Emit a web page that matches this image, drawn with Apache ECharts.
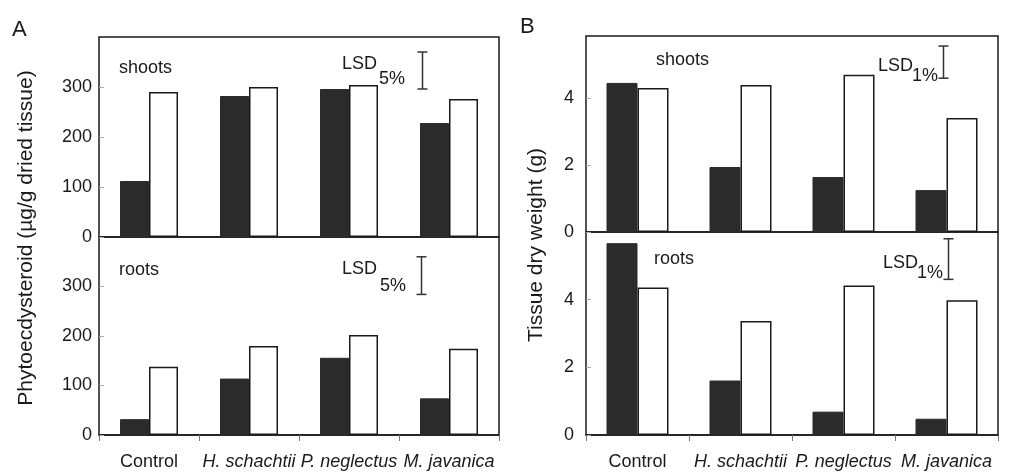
<!DOCTYPE html>
<html>
<head>
<meta charset="utf-8">
<title>Phytoecdysteroid content and tissue dry weight</title>
<script src="https://cdn.jsdelivr.net/npm/echarts@6/dist/echarts.min.js"></script>
<style>
  html, body { margin: 0; padding: 0; background: #fff; }
  #chart { width: 1011px; height: 473px; }
</style>
</head>
<body>
<div id="chart"></div>
<script>
// Treatments along the x axis
const categories = ['Control', 'H. schachtii', 'P. neglectus', 'M. javanica'];

// Panel A: phytoecdysteroid (µg/g dried tissue)
const shootsA_dark  = [112, 282, 296, 228];
const shootsA_white = [290, 300, 304, 276];
const rootsA_dark   = [32, 114, 156, 74];
const rootsA_white  = [138, 180, 202, 174];

// Panel B: tissue dry weight (g)
const shootsB_dark  = [4.45, 1.94, 1.64, 1.25];
const shootsB_white = [4.30, 4.39, 4.69, 3.40];
const rootsB_dark   = [5.67, 1.61, 0.69, 0.48];
const rootsB_white  = [4.36, 3.37, 4.42, 3.98];

// Least significant differences [shoots, roots]
const lsdA = [74, 76];
const lsdB = [0.96, 1.2];

// Labelled y ticks
const ticksA = [0, 100, 200, 300];
const ticksB = [0, 2, 4];

const FONT = '"Liberation Sans", Arial, Helvetica, sans-serif';
const INK = '#1a1a1a';
const DARK = '#2b2b2b';

const chart = echarts.init(document.getElementById('chart'), null, { renderer: 'canvas' });

// Plot boxes: A shoots, A roots, B shoots, B roots
const grids = [
  { left: 99,  top: 37,  width: 400, height: 200 },
  { left: 99,  top: 237, width: 400, height: 198 },
  { left: 586, top: 36,  width: 412, height: 196 },
  { left: 586, top: 232, width: 412, height: 203 }
].map(g => Object.assign({ show: true, borderColor: INK, borderWidth: 1.5, backgroundColor: 'transparent' }, g));

function xAxis(gridIndex, visible) {
  return {
    type: 'category', gridIndex, data: categories,
    show: visible,
    axisLine: { show: true, lineStyle: { color: INK, width: 1.5 } },
    axisTick: { show: true, length: 6, inside: false, lineStyle: { color: '#777', width: 1 } },
    axisLabel: {
      interval: 0,
      margin: 18,
      formatter: v => v === 'Control' ? '{n|' + v + '}' : '{i|' + v + '}',
      rich: {
        n: { fontFamily: FONT, fontSize: 18, color: INK },
        i: { fontFamily: FONT, fontSize: 18, color: INK, fontStyle: 'italic' }
      }
    }
  };
}

function yAxis(gridIndex, max, interval, ticks, margin) {
  return {
    type: 'value', gridIndex, min: 0, max, interval,
    axisLine: { show: false },
    axisTick: { show: true, inside: true, length: 5, lineStyle: { color: '#aaa', width: 1 } },
    splitLine: { show: false },
    axisLabel: {
      margin, fontFamily: FONT, fontSize: 18, color: INK,
      showMaxLabel: false,
      formatter: v => ticks.indexOf(v) >= 0 ? String(v) : ''
    }
  };
}

function bars(name, data, axis, width, filled) {
  return {
    type: 'bar', name, data, xAxisIndex: axis, yAxisIndex: axis,
    barWidth: width, barGap: '0%',
    itemStyle: {
      color: filled ? DARK : '#ffffff',
      borderColor: filled ? DARK : INK,
      borderWidth: filled ? 1 : 1.5
    },
    silent: true, animation: false
  };
}

// LSD error bar, hung from a given top value beside the last category
function lsdSeries(axis, topValue, lsd, dx) {
  return {
    type: 'custom', xAxisIndex: axis, yAxisIndex: axis,
    data: [[3, topValue, topValue - lsd]],
    encode: { x: 0, y: [1, 2] },
    silent: true, animation: false,
    renderItem: (params, api) => {
      const p1 = api.coord([api.value(0), api.value(1)]);
      const p2 = api.coord([api.value(0), api.value(2)]);
      const x = Math.round(p1[0] + dx) + 0.5;
      const st = { stroke: '#333', lineWidth: 1.5 };
      return {
        type: 'group',
        children: [
          { type: 'line', shape: { x1: x, y1: p1[1], x2: x, y2: p2[1] }, style: st },
          { type: 'line', shape: { x1: x - 5, y1: p1[1], x2: x + 5, y2: p1[1] }, style: st },
          { type: 'line', shape: { x1: x - 5, y1: p2[1], x2: x + 5, y2: p2[1] }, style: st }
        ]
      };
    }
  };
}

function txt(x, y, text, size, extra) {
  return {
    type: 'text', x, y, silent: true,
    style: Object.assign({
      text, fill: INK, fontFamily: FONT, fontSize: size,
      textAlign: 'left', textVerticalAlign: 'top', align: 'left', verticalAlign: 'top'
    }, extra || {})
  };
}

function vtxt(x, y, text, size) {
  return {
    type: 'text', x, y, rotation: Math.PI / 2, silent: true,
    style: {
      text, fill: INK, fontFamily: FONT, fontSize: size,
      textAlign: 'center', textVerticalAlign: 'middle', align: 'center', verticalAlign: 'middle'
    }
  };
}

const option = {
  backgroundColor: '#ffffff',
  animation: false,
  grid: grids,
  xAxis: [xAxis(0, false), xAxis(1, true), xAxis(2, false), xAxis(3, true)],
  yAxis: [
    yAxis(0, 400, 100, ticksA, 7),
    yAxis(1, 400, 100, ticksA, 7),
    yAxis(2, 5.85, 2, ticksB, 12),
    yAxis(3, 6, 2, ticksB, 12)
  ],
  series: [
    bars('shoots A infected', shootsA_dark, 0, 29, true),
    bars('shoots A', shootsA_white, 0, 29, false),
    bars('roots A infected', rootsA_dark, 1, 29, true),
    bars('roots A', rootsA_white, 1, 29, false),
    bars('shoots B infected', shootsB_dark, 2, 31, true),
    bars('shoots B', shootsB_white, 2, 31, false),
    bars('roots B infected', rootsB_dark, 3, 31, true),
    bars('roots B', rootsB_white, 3, 31, false),
    lsdSeries(0, 370, lsdA[0], -27),
    lsdSeries(1, 360, lsdA[1], -28),
    lsdSeries(2, 5.55, lsdB[0], -4),
    lsdSeries(3, 5.8, lsdB[1], 1)
  ],
  graphic: [
    txt(12, 19, 'A', 22),
    txt(520, 16, 'B', 22),
    vtxt(26, 238, 'Phytoecdysteroid (µg/g dried tissue)', 21),
    vtxt(536, 245, 'Tissue dry weight (g)', 21),
    txt(119, 59, 'shoots', 18),
    txt(119, 261, 'roots', 18),
    txt(656, 51, 'shoots', 18),
    txt(654, 250, 'roots', 18),
    txt(342, 55, 'LSD', 18),
    txt(379, 70, '5%', 18),
    txt(342, 260, 'LSD', 18),
    txt(380, 277, '5%', 18),
    txt(878, 57, 'LSD', 18),
    txt(912, 67, '1%', 18),
    txt(883, 254, 'LSD', 18),
    txt(917, 264, '1%', 18)
  ]
};

chart.setOption(option);
</script>
</body>
</html>
